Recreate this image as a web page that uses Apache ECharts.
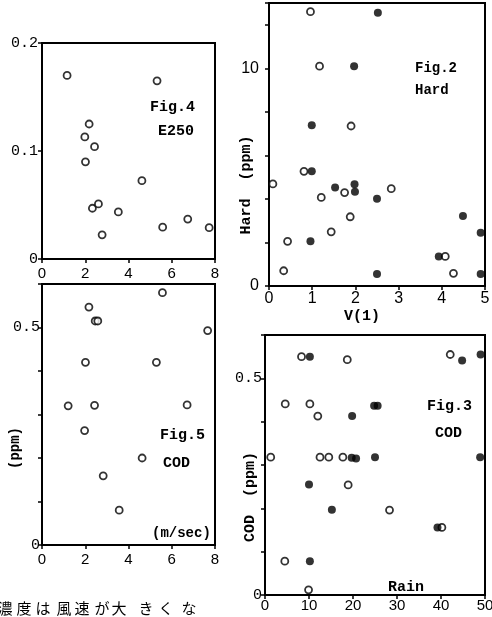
<!DOCTYPE html>
<html>
<head>
<meta charset="utf-8">
<script src="https://cdn.jsdelivr.net/npm/echarts@6/dist/echarts.min.js"></script>
<style>
html,body{margin:0;padding:0;background:#fff;}
#main{width:492px;height:617px;}
</style>
</head>
<body>
<div id="main"></div>
<script>
// Fig.4 E250 vs wind speed (m/sec)
var fig4Open = [[1.16,0.170],[5.32,0.165],[2.18,0.125],[1.98,0.113],[2.43,0.104],[2.01,0.090],
  [4.62,0.0725],[2.33,0.047],[2.61,0.051],[3.53,0.0436],[2.78,0.0224],[5.58,0.0295],[6.74,0.037],[7.73,0.029]];
// Fig.2 Hard vs V(1)
var fig2Open = [[0.96,12.6],[1.17,10.1],[1.90,7.35],[0.81,5.27],[0.09,4.69],[1.21,4.07],[1.75,4.29],
  [2.83,4.47],[1.88,3.18],[1.44,2.49],[0.43,2.05],[0.34,0.70],[4.08,1.36],[4.27,0.58]];
var fig2Filled = [[2.52,12.55],[1.97,10.1],[0.99,7.38],[0.99,5.27],[1.53,4.52],[1.98,4.67],[1.99,4.33],
  [2.50,4.01],[0.96,2.05],[4.49,3.22],[4.90,2.45],[3.93,1.36],[2.50,0.55],[4.90,0.55]];
// Fig.5 COD vs wind speed
var fig5Open = [[5.57,0.580],[2.17,0.547],[2.46,0.515],[2.58,0.515],[7.66,0.493],[2.01,0.42],[5.29,0.42],
  [1.21,0.32],[2.43,0.321],[6.71,0.322],[1.97,0.263],[4.63,0.20],[2.83,0.159],[3.57,0.080]];
// Fig.3 COD vs Rain
var fig3Open = [[8.3,0.55],[18.7,0.543],[42.1,0.555],[4.6,0.441],[10.2,0.441],[12.0,0.413],[1.3,0.318],
  [12.5,0.318],[14.5,0.318],[17.7,0.318],[18.9,0.254],[28.3,0.196],[40.2,0.156],[4.5,0.078],[9.9,0.012]];
var fig3Filled = [[10.2,0.55],[44.8,0.541],[49.0,0.555],[24.8,0.437],[25.6,0.437],[19.8,0.413],[19.7,0.317],
  [20.7,0.315],[25.0,0.318],[48.9,0.318],[10.0,0.255],[15.2,0.197],[39.2,0.156],[10.2,0.078]];

// caption under the left column
var captionChars = ['濃','度','は','風','速','が','大','き','く','な'];
var captionX = [5, 24, 43, 64, 82, 102, 119, 146, 166, 189];

var mono = '"Liberation Mono", "DejaVu Sans Mono", monospace';
var sans = '"Liberation Sans", "DejaVu Sans", sans-serif';

var chart = echarts.init(document.getElementById('main'));

function mkX(idx, max, itv, font, size, margin){
  return {
    gridIndex: idx, type: 'value', min: 0, max: max, interval: itv,
    axisLine: {lineStyle: {color: '#000', width: 2}},
    axisTick: {length: 4, lineStyle: {color: '#000', width: 1.5}},
    axisLabel: {color: '#000', fontFamily: font, fontSize: size, margin: margin,
      formatter: function(v){ return Math.abs(v/itv - Math.round(v/itv)) < 1e-6 ? String(v) : ''; }},
    splitLine: {show: false}
  };
}
function mkY(idx, max, itv, font, size, margin, shown){
  return {
    gridIndex: idx, type: 'value', min: 0, max: max, interval: itv,
    axisLine: {show: true, lineStyle: {color: '#000', width: 2}},
    axisTick: {show: true, length: 4, lineStyle: {color: '#000', width: 1.5}},
    axisLabel: {color: '#000', fontFamily: font, fontSize: size, margin: margin,
      formatter: function(v){
        for (var i = 0; i < shown.length; i++) { if (Math.abs(v - shown[i]) < 1e-6) return String(shown[i]); }
        return '';
      }},
    splitLine: {show: false}
  };
}
function openS(xi, data){
  return {type: 'scatter', xAxisIndex: xi, yAxisIndex: xi, data: data, symbol: 'circle', symbolSize: 7,
    itemStyle: {color: '#fff', borderColor: '#000', borderWidth: 1.8}, silent: true};
}
function fillS(xi, data){
  return {type: 'scatter', xAxisIndex: xi, yAxisIndex: xi, data: data, symbol: 'circle', symbolSize: 8,
    itemStyle: {color: '#000'}, silent: true};
}
function txt(x, y, s, font, rot, align){
  return {type: 'text', x: x, y: y, rotation: rot || 0,
    style: {text: s, font: font, fill: '#000', align: align || (rot ? 'center' : 'left'), verticalAlign: 'middle'}};
}
function gridBox(l, t, w, h){
  return {left: l, top: t, width: w, height: h, show: true, borderColor: '#000', borderWidth: 2,
    backgroundColor: 'transparent', containLabel: false, outerBoundsMode: 'none'};
}

var graphics = [
  txt(150, 107, 'Fig.4', 'bold 15px ' + mono),
  txt(158, 131, 'E250', 'bold 15px ' + mono),
  txt(415, 68, 'Fig.2', 'bold 14px ' + mono),
  txt(415, 90, 'Hard', 'bold 14px ' + mono),
  txt(160, 435, 'Fig.5', 'bold 15px ' + mono),
  txt(163, 463, 'COD', 'bold 15px ' + mono),
  txt(152, 533, '(m/sec)', 'bold 14px ' + mono),
  txt(427, 406, 'Fig.3', 'bold 15px ' + mono),
  txt(435, 433, 'COD', 'bold 15px ' + mono),
  txt(388, 587, 'Rain', 'bold 15px ' + mono),
  txt(344, 316, 'V(1)', 'bold 15px ' + mono),
  txt(246, 185, 'Hard  (ppm)', 'bold 15px ' + mono, Math.PI / 2),
  txt(15, 448, '(ppm)', 'bold 14px ' + mono, Math.PI / 2),
  txt(250, 497, 'COD  (ppm)', 'bold 15px ' + mono, Math.PI / 2)
];
for (var i = 0; i < captionChars.length; i++) {
  graphics.push(txt(captionX[i], 608, captionChars[i], '15px "Noto Sans CJK JP"', 0, 'center'));
}

var option = {
  backgroundColor: '#fff',
  animation: false,
  grid: [
    gridBox(42, 43, 173, 216),
    gridBox(269, 3, 216, 283),
    gridBox(42, 284, 173, 261),
    gridBox(265, 335, 220, 260)
  ],
  xAxis: [
    mkX(0, 8, 2, sans, 15, 7),
    mkX(1, 5, 1, sans, 16, 5),
    mkX(2, 8, 2, sans, 15, 7),
    mkX(3, 50, 10, sans, 15, 3)
  ],
  yAxis: [
    mkY(0, 0.2, 0.1, mono, 15, 4, [0, 0.1, 0.2]),
    mkY(1, 13, 2, sans, 16, 10, [0, 10]),
    mkY(2, 0.6, 0.1, mono, 15, 2, [0, 0.5]),
    mkY(3, 0.6, 0.1, mono, 15, 3, [0, 0.5])
  ],
  series: [
    openS(0, fig4Open),
    openS(1, fig2Open),
    fillS(1, fig2Filled),
    openS(2, fig5Open),
    openS(3, fig3Open),
    fillS(3, fig3Filled)
  ],
  graphic: graphics
};
chart.setOption(option);
</script>
</body>
</html>
